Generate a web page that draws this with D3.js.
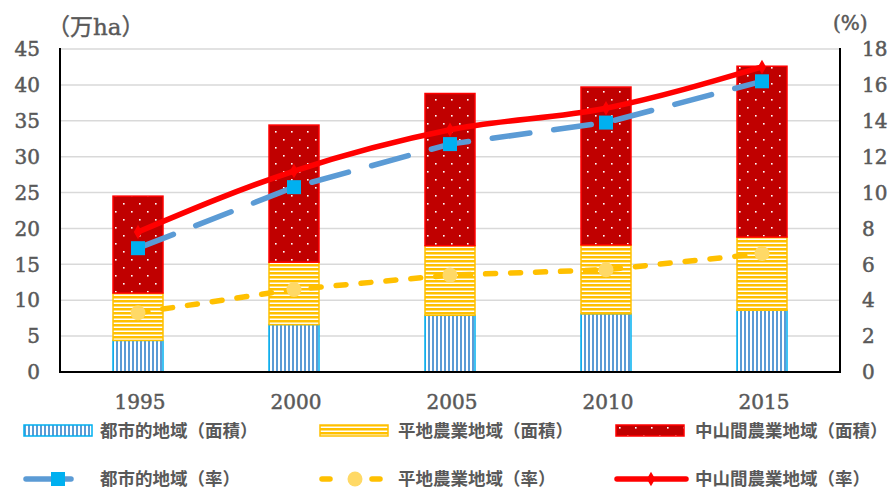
<!DOCTYPE html>
<html><head><meta charset="utf-8">
<script src="https://cdn.jsdelivr.net/npm/d3@7"></script>
<style>body{margin:0;background:#fff;} svg{display:block;}</style>
</head><body>
<svg id="c" width="891" height="489"></svg>
<script>
const years = ["1995","2000","2005","2010","2015"];
const urbanArea = [4.4, 6.6, 7.9, 8.1, 8.6];
const flatArea = [6.6, 8.7, 9.7, 9.6, 10.2];
const mountainArea = [13.5, 19.1, 21.2, 22.0, 23.8];
const urbanRate = [6.9, 10.3, 12.7, 13.9, 16.2];
const flatRate = [3.3, 4.6, 5.4, 5.7, 6.6];
const mountainRate = [7.8, 11.2, 13.5, 14.7, 17.0];
const leftTicks = [0,5,10,15,20,25,30,35,40,45];
const rightTicks = [0,2,4,6,8,10,12,14,16,18];
const legendArea = ["都市的地域（面積）","平地農業地域（面積）","中山間農業地域（面積）"];
const legendRate = ["都市的地域（率）","平地農業地域（率）","中山間農業地域（率）"];

const svg = d3.select("#c");
const L=60, R=840, T=49, B=372;
const x = d3.scaleBand().domain(years).range([L,R]).paddingInner(0.67).paddingOuter(0.335);
const yL = d3.scaleLinear().domain([0,45]).range([B,T]);
const yR = d3.scaleLinear().domain([0,18]).range([B,T]);
const cx = d => x(d)+x.bandwidth()/2;

const defs = svg.append("defs");
const pu = defs.append("pattern").attr("id","pu").attr("patternUnits","userSpaceOnUse").attr("width",4).attr("height",4);
pu.append("rect").attr("width",4).attr("height",4).attr("fill","#fff");
pu.append("rect").attr("x",0).attr("width",2).attr("height",4).attr("fill","#5b9bd5");
const pf = defs.append("pattern").attr("id","pf").attr("patternUnits","userSpaceOnUse").attr("width",4).attr("height",4);
pf.append("rect").attr("width",4).attr("height",4).attr("fill","#fff");
pf.append("rect").attr("y",0).attr("width",4).attr("height",2.5).attr("fill","#ffc000");
const pm = defs.append("pattern").attr("id","pm").attr("patternUnits","userSpaceOnUse").attr("width",16).attr("height",16);
pm.append("rect").attr("width",16).attr("height",16).attr("fill","#c00000");
pm.append("rect").attr("x",3).attr("y",3).attr("width",1.6).attr("height",1.6).attr("fill","#fff");
pm.append("rect").attr("x",11).attr("y",11).attr("width",1.6).attr("height",1.6).attr("fill","#fff");

// gridlines
svg.append("g").selectAll("line").data(leftTicks.filter(d=>d>0)).join("line")
  .attr("x1",L).attr("x2",R).attr("y1",d=>yL(d)).attr("y2",d=>yL(d))
  .attr("stroke","#d9d9d9").attr("stroke-width",1.5);

// stacked bars
const stackData = years.map((y,i)=>({year:y, u:urbanArea[i], f:flatArea[i], m:mountainArea[i]}));
const stack = d3.stack().keys(["u","f","m"])(stackData);
const fills = {u:"url(#pu)", f:"url(#pf)", m:"url(#pm)"};
const strokes = {u:"#00b0f0", f:"#ffc000", m:"#ff0000"};
stack.forEach(s=>{
  svg.append("g").selectAll("rect").data(s).join("rect")
    .attr("x",d=>x(d.data.year)+0.75).attr("width",x.bandwidth()-1.5)
    .attr("y",d=>yL(d[1])).attr("height",d=>yL(d[0])-yL(d[1]))
    .attr("fill",fills[s.key]).attr("stroke",strokes[s.key]).attr("stroke-width",1.5);
});

// axes lines
svg.append("line").attr("x1",L).attr("x2",L).attr("y1",T-1).attr("y2",B+1).attr("stroke","#000").attr("stroke-width",2);
svg.append("line").attr("x1",R).attr("x2",R).attr("y1",T-1).attr("y2",B+1).attr("stroke","#000").attr("stroke-width",2);
svg.append("line").attr("x1",L).attr("x2",R).attr("y1",B).attr("y2",B).attr("stroke","#000").attr("stroke-width",2);

const numFont = "'DejaVu Serif', serif";
function num(sel){
  return sel.attr("font-family",numFont).attr("font-size",20).attr("fill","#595959")
    .attr("stroke","#595959").attr("stroke-width",0.5);
}
num(svg.append("g").selectAll("text").data(leftTicks).join("text")
  .attr("x",40).attr("y",d=>yL(d)).attr("dy","0.36em").attr("text-anchor","end")).text(d=>d);
num(svg.append("g").selectAll("text").data(rightTicks).join("text")
  .attr("x",862).attr("y",d=>yR(d)).attr("dy","0.36em").attr("text-anchor","start")).text(d=>d);
num(svg.append("g").selectAll("text").data(years).join("text")
  .attr("x",d=>cx(d)+2).attr("y",402).attr("dy","0.36em").attr("text-anchor","middle")).text(d=>d);

svg.append("text").attr("x",47).attr("y",35).attr("font-family","'DejaVu Serif','Noto Sans CJK JP',serif")
  .attr("font-size",23).attr("fill","#595959").attr("stroke","#595959").attr("stroke-width",0.4).text("（万ha）");
num(svg.append("text").attr("x",833).attr("y",30)).text("(%)");

// lines
function drawLine(vals, color, dash, curve){
  const ln = d3.line().x((d,i)=>cx(years[i])).y(d=>yR(d)).curve(curve);
  svg.append("path").attr("d",ln(vals)).attr("fill","none").attr("stroke",color)
    .attr("stroke-width",5.5).attr("stroke-linecap", dash? "round":"butt").attr("stroke-dasharray",dash||null);
}
drawLine(urbanRate, "#5b9bd5", "38,24", d3.curveLinear);
svg.append("g").selectAll("rect").data(urbanRate).join("rect")
  .attr("x",(d,i)=>cx(years[i])-7).attr("y",d=>yR(d)-7).attr("width",14).attr("height",14).attr("fill","#00b0f0");
drawLine(flatRate, "#ffc000", "10,15", d3.curveLinear);
svg.append("g").selectAll("circle").data(flatRate).join("circle")
  .attr("cx",(d,i)=>cx(years[i])).attr("cy",d=>yR(d)).attr("r",7.5).attr("fill","#ffd966");
drawLine(mountainRate, "#ff0000", null, d3.curveMonotoneX);
svg.append("g").selectAll("path").data(mountainRate).join("path")
  .attr("d",d3.symbol().type(d3.symbolDiamond).size(60))
  .attr("transform",(d,i)=>`translate(${cx(years[i])},${yR(d)})`).attr("fill","#ff0000");

// legend
const jp = "'Noto Sans CJK JP', sans-serif";
const lx = [24, 320, 616], tx = [100, 398, 695];
const areaKeys = ["u","f","m"];
areaKeys.forEach((k,i)=>{
  svg.append("rect").attr("x",lx[i]).attr("y",425).attr("width",68).attr("height",11)
    .attr("fill",fills[k]).attr("stroke",strokes[k]).attr("stroke-width",1.5);
  svg.append("text").attr("x",tx[i]).attr("y",431).attr("dy","0.36em").attr("font-family",jp)
    .attr("font-size",17.5).attr("font-weight","bold").attr("fill","#595959").text(legendArea[i]);
  svg.append("text").attr("x",tx[i]).attr("y",479).attr("dy","0.36em").attr("font-family",jp)
    .attr("font-size",17.5).attr("font-weight","bold").attr("fill","#595959").text(legendRate[i]);
});
// row 2 samples
const ly = 479;
svg.append("line").attr("x1",26).attr("x2",71).attr("y1",ly).attr("y2",ly).attr("stroke","#5b9bd5").attr("stroke-width",5.5).attr("stroke-linecap","round");
svg.append("rect").attr("x",51).attr("y",ly-7).attr("width",14).attr("height",14).attr("fill","#00b0f0");
svg.append("line").attr("x1",322).attr("x2",330).attr("y1",ly).attr("y2",ly).attr("stroke","#ffc000").attr("stroke-width",5.5).attr("stroke-linecap","round");
svg.append("line").attr("x1",372).attr("x2",380).attr("y1",ly).attr("y2",ly).attr("stroke","#ffc000").attr("stroke-width",5.5).attr("stroke-linecap","round");
svg.append("circle").attr("cx",355).attr("cy",ly).attr("r",7.5).attr("fill","#ffd966");
svg.append("line").attr("x1",617).attr("x2",686).attr("y1",ly).attr("y2",ly).attr("stroke","#ff0000").attr("stroke-width",5.5).attr("stroke-linecap","round");
svg.append("path").attr("d",d3.symbol().type(d3.symbolDiamond).size(60)).attr("transform",`translate(651,${ly})`).attr("fill","#ff0000");
</script>
</body></html>
